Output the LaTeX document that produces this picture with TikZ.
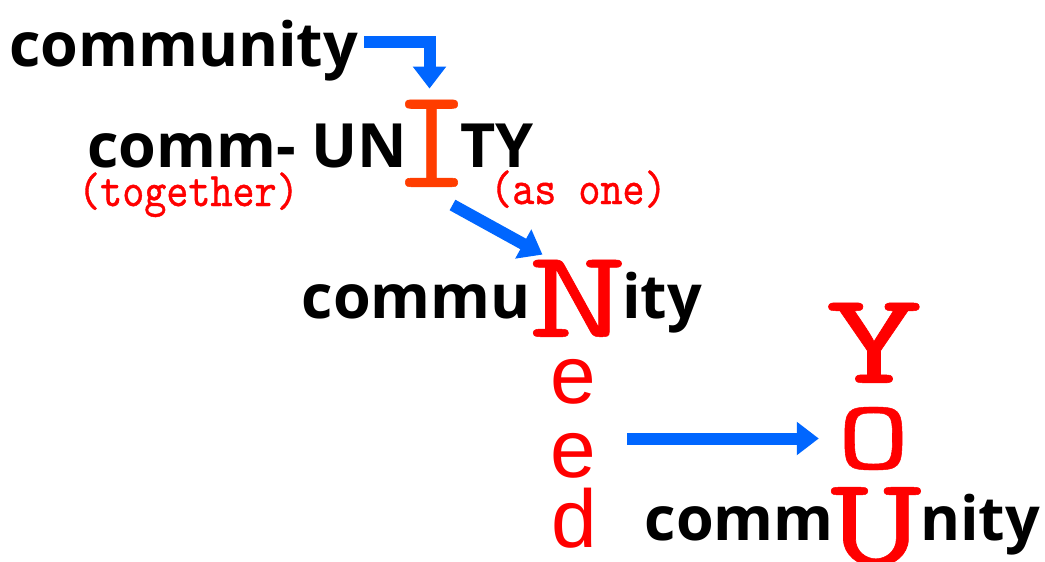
\documentclass[tikz,border=0pt]{standalone}
\usepackage{fontspec}
\usepackage{graphicx}
\usetikzlibrary{arrows.meta}
\newfontfamily\blackfont{Open Sans}
\newfontfamily\twfont{lmmono10-regular}[Extension=.otf,FakeBold=0.4]
\newfontfamily\twthin{lmmono10-regular}[Extension=.otf,FakeBold=0.9]
\newfontfamily\sansfont{Liberation Sans}
\definecolor{myblue}{RGB}{0,102,255}
\definecolor{myred}{RGB}{255,0,0}
\definecolor{ired}{RGB}{255,61,0}
\newcommand{\bigletter}[3]{\resizebox{#1}{#2}{\fontsize{100}{100}\selectfont\twfont #3}}
\newcommand{\notetext}[1]{\scalebox{1}[1.15]{#1}}
\tikzset{
  word/.style={inner sep=0pt, font=\blackfont\bfseries\fontsize{61}{64}\selectfont, text=black},
  note/.style={inner sep=0pt, font=\twthin\fontsize{42}{46}\selectfont, text=myred},
  bigcap/.style={inner sep=0pt, text=myred},
  small/.style={inner sep=0pt, font=\sansfont\fontsize{82}{86}\selectfont, text=myred},
  arr/.style={draw=myblue, line width=12pt, line join=miter,
    -{Triangle[width=32pt,length=22pt]}},
}
\begin{document}
\begin{tikzpicture}[x=1pt,y=-1pt]
\useasboundingbox (0,0) rectangle (1045,562);
% line 1
\node[word, anchor=base west] (top) at (9,66) {community};
% line 2
\node[word, anchor=base west] (commun) at (87,167) {comm- UN};
\node[bigcap, text=ired, anchor=south] (I) at (431.5,187) {\bigletter{75pt}{87pt}{I}};
\node[word, anchor=base west] (ty) at (460,167) {TY};
\node[note, anchor=base west] (together) at (78,206) {\notetext{(together)}};
\node[note, anchor=base west] (asone) at (490,204) {\notetext{(as one)}};
% line 3
\node[bigcap, anchor=south] (N) at (577.5,337) {\bigletter{99pt}{77pt}{N}};
\node[word, anchor=base east] (commu) at (531,318) {commu};
\node[word, anchor=base west] (ity) at (622,318) {ity};
% need
\node[small, anchor=base] (e1) at (573,403) {e};
\node[small, anchor=base] (e2) at (573,477) {e};
\node[small, anchor=base] (d) at (574,547) {d};
% you
\node[bigcap, anchor=south] (Y) at (874,383) {\bigletter{98pt}{80pt}{Y}};
\node[bigcap, anchor=center] (O) at (873.5,438.5) {\bigletter{73pt}{62pt}{O}};
\node[bigcap, anchor=north] (U) at (876,487) {\bigletter{91pt}{78pt}{U}};
\node[word, anchor=base east] (comm) at (834,540) {comm};
\node[word, anchor=base west] (nity) at (920,540) {nity};
% arrows
\draw[arr] ([xshift=6pt,yshift=8pt]top.east) -| ([xshift=-2pt,yshift=11pt]I.north);
\draw[arr] ([xshift=21pt,yshift=-18pt]I.south) -- ([xshift=-35pt,yshift=5pt]N.north);
\draw[arr] ([xshift=31pt]e2.east |- O.west) -- ([xshift=-18pt]O.west);
\end{tikzpicture}
\end{document}
